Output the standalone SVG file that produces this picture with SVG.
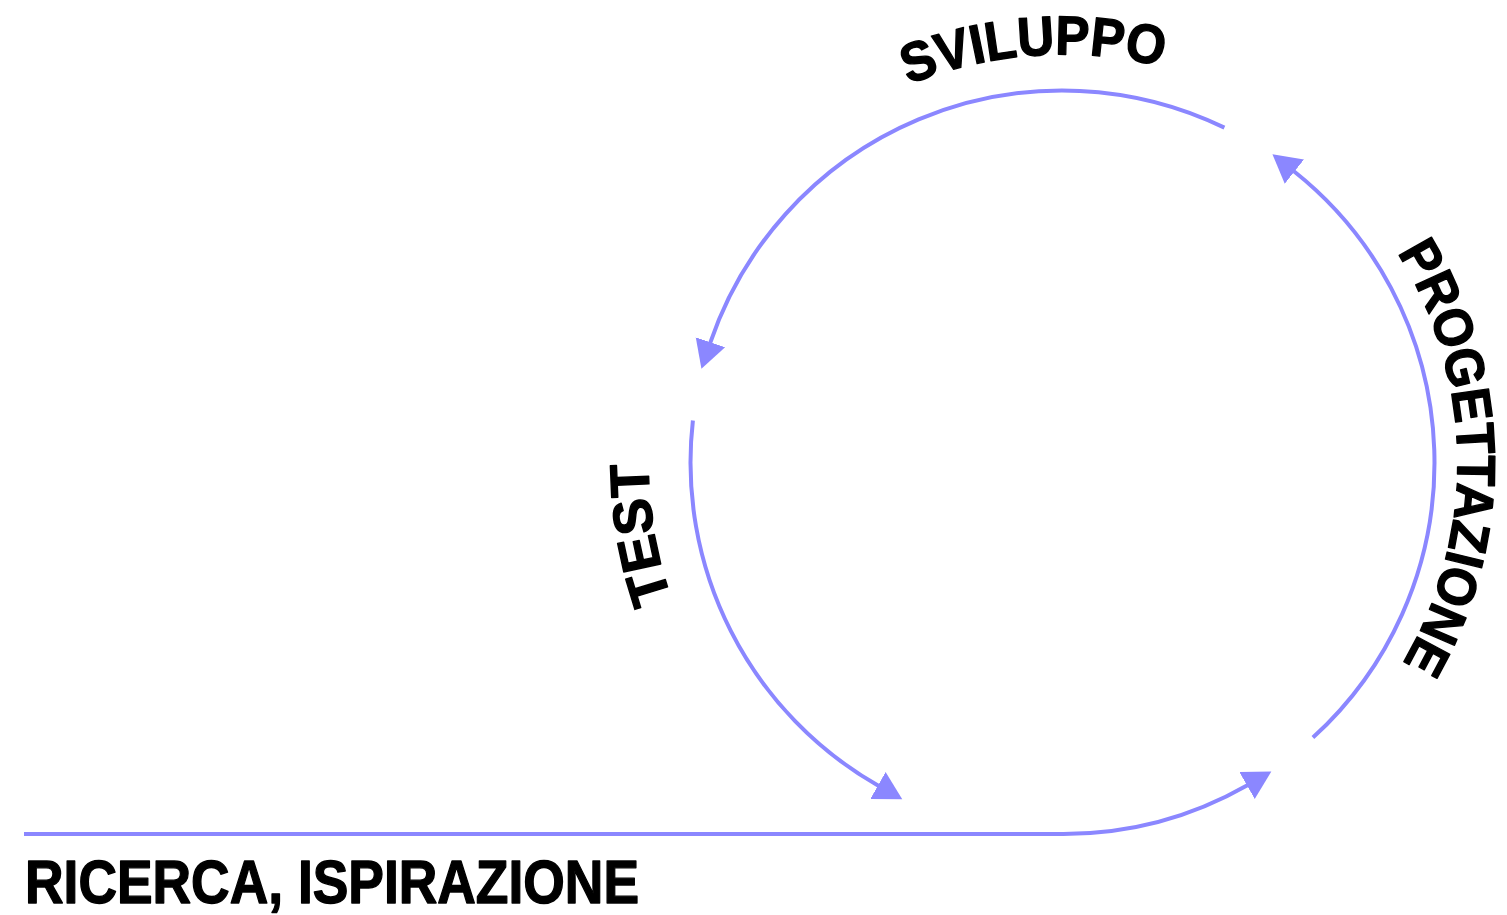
<svg xmlns="http://www.w3.org/2000/svg" width="1507" height="915" viewBox="0 0 1507 915">
  <style>
    .conn { fill: none; stroke: #8b87ff; stroke-width: 4; stroke-linecap: butt; }
    .lbl { font-family: "Liberation Sans", "DejaVu Sans", Arial, sans-serif; font-weight: 700; fill: #000000; stroke: #000000; stroke-width: 1.4; stroke-linejoin: round; }
    .arc-lbl { font-size: 55px; }
    .prog-lbl { font-size: 54px; }
    .base-lbl { font-size: 62px; }
  </style>
  <defs>
    <marker id="ah" markerUnits="userSpaceOnUse" viewBox="0 -16 30 32" markerWidth="30" markerHeight="32" refX="1" refY="0" orient="auto">
      <path d="M0,-15.5 L28,0 L0,15.5 Z" fill="#8b87ff"/>
    </marker>
    <path id="p-sviluppo" d="M654.5,462.5 A408,408 0 0 1 1470.5,462.5"/>
    <path id="p-progett" d="M1062.5,67.5 A395,395 0 0 1 1062.5,857.5"/>
    <path id="p-test" d="M1062.5,876.5 A414,414 0 0 1 1062.5,48.5"/>
  </defs>

  <g id="connectors">
    <path class="conn" d="M24,834 H1062.5 A372,372 0 0 0 1247.9,785.0" marker-end="url(#ah)"/>
    <path class="conn" d="M1312.9,737.6 A372,372 0 0 0 1293.6,171.0" marker-end="url(#ah)"/>
    <path class="conn" d="M1224.4,127.6 A372,372 0 0 0 710.1,343.2" marker-end="url(#ah)"/>
    <path class="conn" d="M692.9,420.4 A372,372 0 0 0 878.8,786.0" marker-end="url(#ah)"/>
  </g>

  <g id="node-ricerca">
    <text class="lbl base-lbl" x="25" y="903" textLength="614" lengthAdjust="spacingAndGlyphs">RICERCA, ISPIRAZIONE</text>
  </g>
  <g id="node-progettazione">
    <text class="lbl prog-lbl" text-anchor="middle"><textPath href="#p-progett" startOffset="615" textLength="432" lengthAdjust="spacingAndGlyphs">PROGETTAZIONE</textPath></text>
  </g>
  <g id="node-sviluppo">
    <text class="lbl arc-lbl" text-anchor="middle"><textPath href="#p-sviluppo" startOffset="612" textLength="258" lengthAdjust="spacingAndGlyphs">SVILUPPO</textPath></text>
  </g>
  <g id="node-test">
    <text class="lbl arc-lbl" text-anchor="middle"><textPath href="#p-test" startOffset="580" textLength="138" lengthAdjust="spacingAndGlyphs">TEST</textPath></text>
  </g>
</svg>
